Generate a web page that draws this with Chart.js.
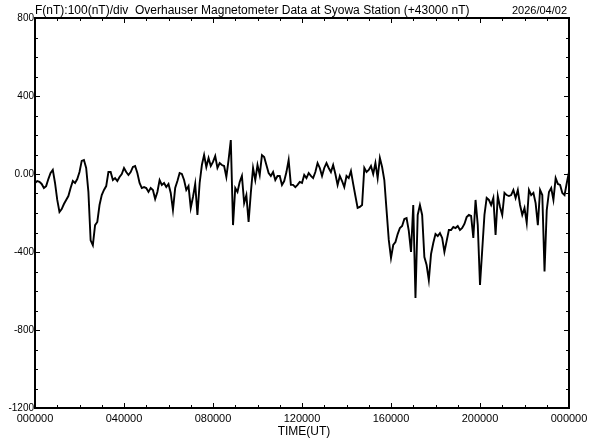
<!DOCTYPE html>
<html>
<head>
<meta charset="utf-8">
<script src="https://cdn.jsdelivr.net/npm/chart.js@4.4.1/dist/chart.umd.min.js"></script>
<style>
  html, body { margin: 0; padding: 0; background: #fff; }
  canvas { display: block; }
</style>
</head>
<body>
<canvas id="magChart" width="592" height="440"></canvas>
<script>
// F (nT) minus 43000, one sample every 0.1 h (6 min)
const STEP_HOURS = 0.1;
const fValues = [
  -46, -36, -40, -51, -72, -62, -26, 5, 21, -46,
  -133, -195, -180, -154, -133, -113, -72, -36, -46, -26,
  10, 67, 72, 31, -92, -340, -365, -262, -246, -159,
  -108, -82, -62, 10, 10, -31, -21, -36, -15, 0,
  31, 10, -5, 10, 36, 41, 5, -46, -72, -67,
  -72, -92, -72, -82, -128, -92, -31, -56, -46, -67,
  -51, -97, -185, -72, -36, 5, 0, -31, -82, -62,
  -174, -118, -51, -210, -46, 46, 97, 36, 82, 41,
  62, 92, 31, 56, 46, 41, -15, 72, 174, -262,
  -72, -92, -41, -10, -149, -108, -246, -97, 31, -31,
  46, -5, 97, 87, 46, 5, -10, 10, -31, -10,
  -10, -56, -36, 10, 72, -56, -56, -67, -56, -41,
  -46, -5, -21, 5, -10, -21, 10, 56, 31, -10,
  31, 56, 31, 10, 46, 0, -56, -10, -36, -67,
  -10, -21, 15, -51, -113, -174, -169, -159, 31, 10,
  21, 41, 0, 56, -21, 82, 36, -31, -185, -338,
  -431, -364, -349, -308, -277, -267, -231, -226, -292, -400,
  -159, -636, -210, -159, -210, -426, -467, -544, -410, -354,
  -308, -318, -303, -328, -400, -344, -287, -287, -272, -277,
  -267, -287, -277, -256, -221, -210, -215, -328, -133, -262,
  -569, -390, -210, -123, -133, -159, -123, -313, -113, -169,
  -210, -97, -108, -113, -108, -82, -123, -82, -159, -210,
  -174, -251, -82, -108, -97, -149, -262, -82, -108, -500,
  -185, -92, -72, -133, -21, -51, -56, -97, -108, -46, 10
];

const xTicks = [0, 4, 8, 12, 16, 20, 24];
const xTickLabels = ["000000", "040000", "080000", "120000", "160000", "200000", "000000"];
const yTicks = [800, 400, 0, -400, -800, -1200];
const yTickLabels = ["800", "400", "0.00", "-400", "-800", "-1200"];

const titleText = "F(nT):100(nT)/div  Overhauser Magnetometer Data at Syowa Station (+43000 nT)";
const dateText = "2026/04/02";
const xTitle = "TIME(UT)";

const FONT = '"Liberation Sans", Arial, sans-serif';

// frame, inward ticks and all labels
const framePlugin = {
  id: "frame",
  afterDatasetsDraw(chart) {
    const { ctx, chartArea: a, scales } = chart;
    const xs = scales.x, ys = scales.y;
    ctx.save();
    ctx.strokeStyle = "#000";
    ctx.fillStyle = "#000";

    // minor / major ticks
    ctx.lineWidth = 1;
    ctx.beginPath();
    for (let h = 0; h <= 24; h++) {
      const px = Math.round(xs.getPixelForValue(h)) + 0.5;
      const len = h % 4 === 0 ? 5 : 3;
      ctx.moveTo(px, a.bottom); ctx.lineTo(px, a.bottom - len);
      ctx.moveTo(px, a.top); ctx.lineTo(px, a.top + len);
    }
    for (let v = -1200; v <= 800; v += 100) {
      const py = Math.round(ys.getPixelForValue(v)) + 0.5;
      const len = v % 400 === 0 ? 5 : 3;
      ctx.moveTo(a.left, py); ctx.lineTo(a.left + len, py);
      ctx.moveTo(a.right, py); ctx.lineTo(a.right - len, py);
    }
    ctx.stroke();

    // frame
    ctx.lineWidth = 2;
    ctx.strokeRect(a.left, a.top, a.right - a.left, a.bottom - a.top);

    // y labels
    ctx.font = "10px " + FONT;
    ctx.textAlign = "right";
    ctx.textBaseline = "middle";
    yTicks.forEach((v, i) => {
      ctx.fillText(yTickLabels[i], a.left - 1, ys.getPixelForValue(v));
    });

    // x labels
    ctx.font = "11px " + FONT;
    ctx.textAlign = "center";
    ctx.textBaseline = "alphabetic";
    xTicks.forEach((h, i) => {
      ctx.fillText(xTickLabels[i], xs.getPixelForValue(h), 422);
    });

    ctx.font = "12px " + FONT;
    ctx.fillText(xTitle, (a.left + a.right) / 2 + 2, 435);

    // header
    ctx.font = "12px " + FONT;
    ctx.textAlign = "left";
    ctx.fillText(titleText, a.left, 14);
    ctx.font = "11px " + FONT;
    ctx.textAlign = "right";
    ctx.fillText(dateText, a.right - 2, 14);
    ctx.restore();
  }
};

new Chart(document.getElementById("magChart").getContext("2d"), {
  type: "line",
  data: {
    datasets: [{
      data: fValues.map((v, i) => ({ x: i * STEP_HOURS, y: v })),
      borderColor: "#000",
      borderWidth: 1.9,
      pointRadius: 0,
      tension: 0,
      fill: false
    }]
  },
  options: {
    responsive: false,
    animation: false,
    devicePixelRatio: 1,
    layout: { padding: { left: 35, top: 18, right: 23, bottom: 32 } },
    plugins: { legend: { display: false }, tooltip: { enabled: false } },
    scales: {
      x: { type: "linear", min: 0, max: 24, display: false },
      y: { min: -1200, max: 800, display: false }
    }
  },
  plugins: [framePlugin]
});
</script>
</body>
</html>
